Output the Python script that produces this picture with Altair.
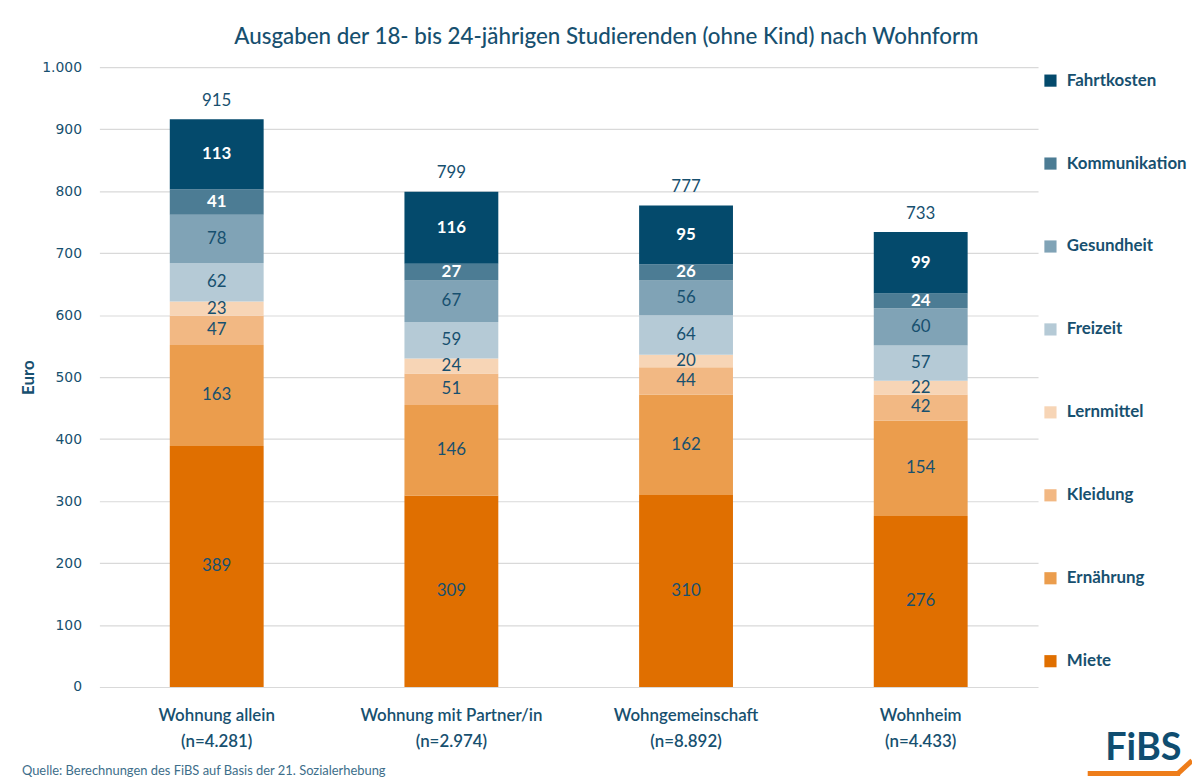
import altair as alt
import pandas as pd

# ---- data ----
forms = ["Wohnung allein|(n=4.281)", "Wohnung mit Partner/in|(n=2.974)",
         "Wohngemeinschaft|(n=8.892)", "Wohnheim|(n=4.433)"]
categories = ["Miete", "Ernährung", "Kleidung", "Lernmittel",
              "Freizeit", "Gesundheit", "Kommunikation", "Fahrtkosten"]
miete = [389, 309, 310, 276]
ernaehrung = [163, 146, 162, 154]
kleidung = [47, 51, 44, 42]
lernmittel = [23, 24, 20, 22]
freizeit = [62, 59, 64, 57]
gesundheit = [78, 67, 56, 60]
kommunikation = [41, 27, 26, 24]
fahrtkosten = [113, 116, 95, 99]
totals = [915, 799, 777, 733]
colors = ["#e06f00", "#eb9d4d", "#f2b883", "#f7d5b6",
          "#b5cad6", "#80a3b6", "#4c7c94", "#044a6c"]

series = [miete, ernaehrung, kleidung, lernmittel, freizeit,
          gesundheit, kommunikation, fahrtkosten]

rows = []
for ci, (cat, vals) in enumerate(zip(categories, series)):
    for f, v in zip(forms, vals):
        rows.append({"form": f, "cat": cat, "value": v, "idx": ci})
df = pd.DataFrame(rows)
df_tot = pd.DataFrame({"form": forms, "total": totals})

DARK = "#17506f"
FONT = "Lato"

x_enc = alt.X(
    "form:N", sort=forms, title=None,
    scale=alt.Scale(paddingInner=0.6, paddingOuter=0.3),
    axis=alt.Axis(labelExpr="split(datum.label, '|')", labelAngle=0,
                  labelFont=FONT, labelFontSize=17, labelFontWeight=600,
                  labelColor=DARK, labelPadding=21, labelLineHeight=26,
                  labelLimit=400, ticks=False, domain=False),
)

base = alt.Chart(df)

bars = base.mark_bar().encode(
    x=x_enc,
    y=alt.Y("value:Q", stack="zero", title="Euro",
            scale=alt.Scale(domain=[0, 1000]),
            axis=alt.Axis(values=list(range(0, 1001, 100)),
                          labelExpr="replace(datum.label, ',', '.')",
                          labelFont="DejaVu Sans", labelFontSize=14,
                          labelColor=DARK, labelPadding=18,
                          ticks=False, domain=False,
                          gridColor="#d9d9d9", gridWidth=1.2,
                          titleFont=FONT, titleFontSize=17,
                          titleFontWeight="bold", titleColor=DARK,
                          titlePadding=4)),
    color=alt.Color("cat:N",
                    scale=alt.Scale(domain=categories[::-1], range=colors[::-1]),
                    legend=alt.Legend(orient="none", legendX=949, legendY=5,
                                      title=None, symbolType="square",
                                      symbolSize=150, symbolStrokeWidth=0,
                                      labelFont=FONT, labelFontSize=17,
                                      labelFontWeight="bold", labelColor=DARK,
                                      rowPadding=65.5, labelOffset=8,
                                      labelLimit=200)),
    order=alt.Order("idx:Q"),
)

stacked = base.transform_stack(
    stack="value", groupby=["form"], sort=[alt.SortField("idx")], as_=["y0", "y1"]
).transform_calculate(mid="(datum.y0 + datum.y1) / 2")

light_labels = stacked.transform_filter("datum.idx >= 6").mark_text(
    color="white", font=FONT, fontSize=17, fontWeight="bold"
).encode(x=alt.X("form:N", sort=forms), y="mid:Q", text="value:Q")

dark_labels = stacked.transform_filter("datum.idx < 6").mark_text(
    color=DARK, font=FONT, fontSize=17
).encode(x=alt.X("form:N", sort=forms), y="mid:Q", text="value:Q")

total_labels = alt.Chart(df_tot).mark_text(
    color=DARK, font=FONT, fontSize=17, dy=-19
).encode(x=alt.X("form:N", sort=forms), y="total:Q", text="total:Q")

source = alt.Chart(pd.DataFrame({"t": ["Quelle: Berechnungen des FiBS auf Basis der 21. Sozialerhebung"]})).mark_text(
    align="left", baseline="middle", font=FONT, fontSize=13, color="#3d6e8a"
).encode(x=alt.value(-78), y=alt.value(709), text="t:N")

logo = alt.Chart(pd.DataFrame({"t": ["FiBS"]})).mark_text(
    align="center", baseline="middle", font=FONT, fontSize=38,
    fontWeight="bold", color="#0f4d70"
).encode(x=alt.value(1051), y=alt.value(686), text="t:N")

logo_line = alt.Chart(pd.DataFrame({"a": [0]})).mark_rule(
    color="#ee7d1a", strokeWidth=5
).encode(x=alt.value(995), x2=alt.value(1088), y=alt.value(711))

logo_diag = alt.Chart(pd.DataFrame({"a": [0]})).mark_rule(
    color="#ee7d1a", strokeWidth=5
).encode(x=alt.value(1086), x2=alt.value(1100), y=alt.value(711), y2=alt.value(698))

chart = alt.layer(
    bars, light_labels, dark_labels, total_labels, source, logo, logo_line, logo_diag
).properties(
    width=945, height=624,
    title=alt.TitleParams(
        "Ausgaben der 18- bis 24-jährigen Studierenden (ohne Kind) nach Wohnform",
        font=FONT, fontSize=22.5, fontWeight=500, color=DARK,
        anchor="middle", dx=38, offset=12),
    autosize=alt.AutoSizeParams(type="none"),
    padding={"left": 92, "top": 57, "right": 155, "bottom": 91},
).configure_view(stroke=None)

chart.save("out.html", embed_options={"renderer": "svg", "actions": False})
